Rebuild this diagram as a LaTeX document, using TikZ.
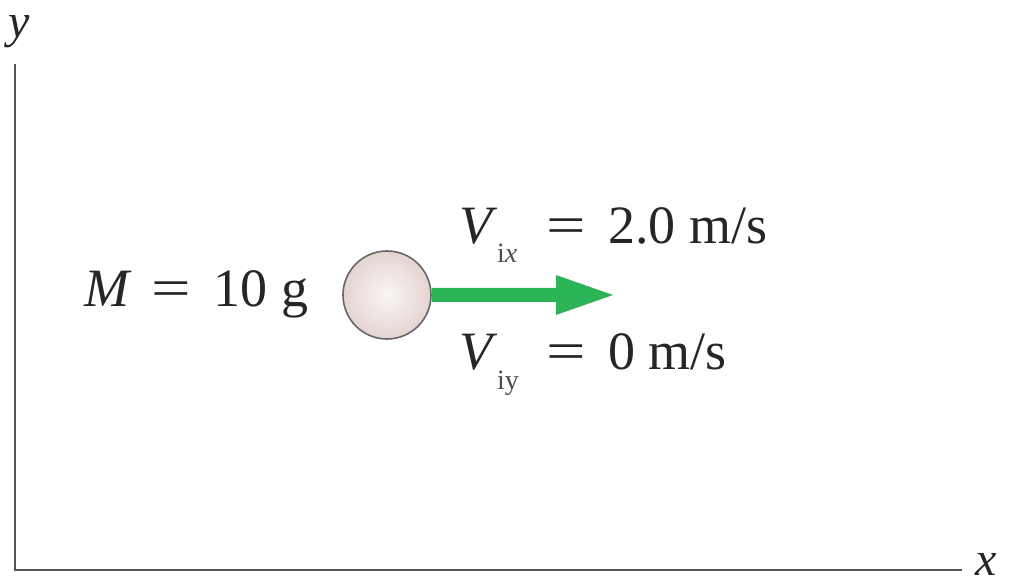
\documentclass[tikz,border=0pt]{standalone}
\usepackage{fontspec}
\usepackage{graphicx}
\setmainfont{Liberation Serif}
\definecolor{arrowgreen}{RGB}{44,181,86}
\definecolor{ballin}{RGB}{250,246,245}
\definecolor{ballout}{RGB}{228,212,209}
\definecolor{axisgray}{RGB}{85,85,85}
\newcommand{\weq}{\scalebox{1.3}[1]{=}}
\begin{document}
\begin{tikzpicture}[x=1pt,y=-1pt,
  axis/.style={draw=axisgray,line width=2.8pt},
  lbl/.style={inner sep=0pt,anchor=base west,font=\fontsize{54}{58}\selectfont,text=black!85},
  sub/.style={inner sep=0pt,anchor=base west,font=\fontsize{28}{30}\selectfont,text=black!70},
  axlbl/.style={inner sep=0pt,anchor=base west,font=\fontsize{48}{52}\selectfont\itshape,text=black!85}]
\useasboundingbox (0,0) rectangle (1009,585);
\coordinate (o) at (15,570);
\coordinate (ytop) at (15,64);
\coordinate (xend) at (962,570);
\draw[axis] (ytop) -- (o) -- (xend);
\node[axlbl] (ylab) at (8,38) {y};
\node[axlbl] (xlab) at (975,575) {x};
% ball
\node[circle,minimum size=88pt,inner sep=0pt,draw=black!60,line width=1.6pt,
  inner color=ballin,outer color=ballout] (ball) at (387,295) {};
% arrow
\coordinate (tip) at (613,295);
\fill[arrowgreen] ([yshift=7pt]ball.east) -- (556,288) -- (556,275) -- (tip) -- (556,315) -- (556,302) -- ([yshift=-7pt]ball.east) -- cycle;
% labels
\node[lbl] (m) at (84,306) {\itshape M\upshape\ \,\weq\ \,10 g};
\node[lbl] (vx) at (459,244) {\itshape V};
\node[sub] (vxs) at (497,263) {i\itshape x};
\node[lbl] (vxr) at (546,244) {\weq\ \,2.0 m/s};
\node[lbl] (vy) at (459,369) {\itshape V};
\node[sub] (vys) at (497,389) {iy};
\node[lbl] (vyr) at (546,369) {\weq\ \,0 m/s};
\end{tikzpicture}
\end{document}
